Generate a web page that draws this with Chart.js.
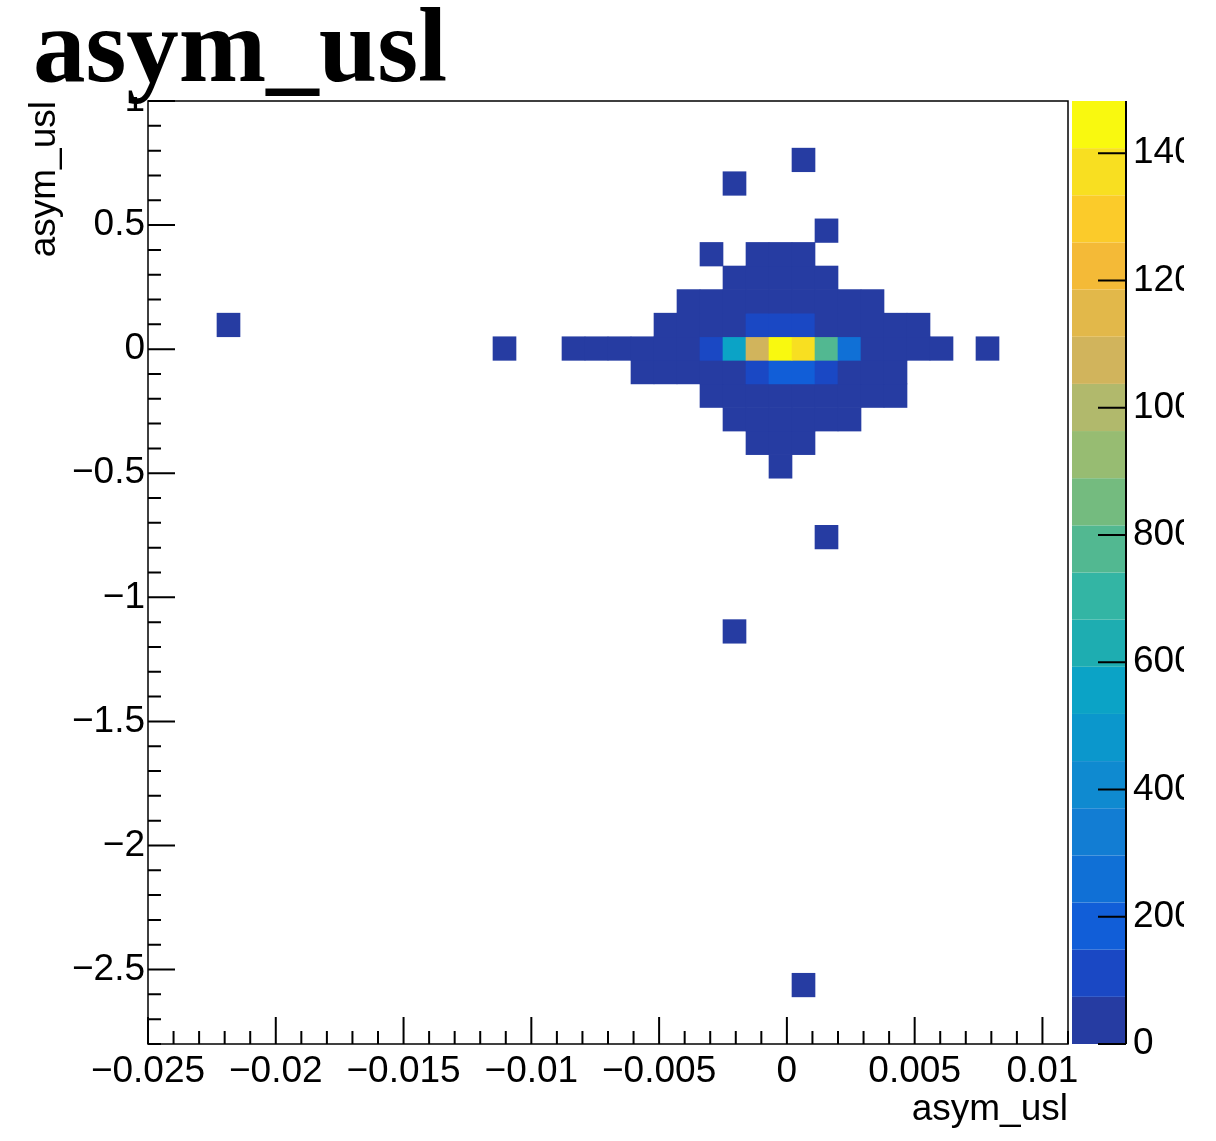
<!DOCTYPE html>
<html>
<head>
<meta charset="utf-8">
<title>asym_usl</title>
<script src="https://cdn.jsdelivr.net/npm/chart.js@4.4.1/dist/chart.umd.min.js"></script>
<style>
  html, body { margin: 0; padding: 0; background: #fff; }
  /* ROOT canvas cuts the palette labels on the right */
  #wrap { width: 1184px; height: 1141px; overflow: hidden; }
</style>
</head>
<body>
<div id="wrap"><canvas id="h2" width="1216" height="1141"></canvas></div>
<script>
// --- binning of the TH2 (40 x 40) ---
const xMin = -0.025, xMax = 0.011, nBinsX = 40;
const yMin = -2.8, yMax = 1.0, nBinsY = 40;

// --- filled bins: column, row (from bottom), entries ---
const binCol = [
  28,
  25,
  29,
  24, 26, 27, 28,
  25, 26, 27, 28, 29,
  23, 24, 25, 26, 27, 28, 29, 30, 31,
  3, 22, 23, 24, 25, 26, 27, 28, 29, 30, 31, 32, 33,
  15, 18, 19, 20, 21, 22, 23, 24, 25, 26, 27, 28, 29, 30, 31, 32, 33, 34, 36,
  21, 22, 23, 24, 25, 26, 27, 28, 29, 30, 31, 32,
  24, 25, 26, 27, 28, 29, 30, 31, 32,
  25, 26, 27, 28, 29, 30,
  26, 27, 28,
  27,
  29,
  25,
  28
];
const binRow = [
  37,
  36,
  34,
  33, 33, 33, 33,
  32, 32, 32, 32, 32,
  31, 31, 31, 31, 31, 31, 31, 31, 31,
  30, 30, 30, 30, 30, 30, 30, 30, 30, 30, 30, 30, 30,
  29, 29, 29, 29, 29, 29, 29, 29, 29, 29, 29, 29, 29, 29, 29, 29, 29, 29, 29,
  28, 28, 28, 28, 28, 28, 28, 28, 28, 28, 28, 28,
  27, 27, 27, 27, 27, 27, 27, 27, 27,
  26, 26, 26, 26, 26, 26,
  25, 25, 25,
  24,
  21,
  17,
  2
];
const binCount = [
  1,
  1,
  1,
  1, 2, 3, 2,
  3, 6, 9, 7, 3,
  2, 4, 9, 16, 24, 20, 10, 5, 2,
  1, 2, 4, 11, 30, 105, 130, 115, 45, 16, 6, 3, 1,
  1, 1, 1, 2, 3, 7, 22, 125, 530, 1080, 1482, 1380, 780, 250, 55, 14, 4, 1, 1,
  1, 2, 5, 13, 40, 110, 185, 175, 100, 32, 8, 2,
  2, 6, 18, 32, 27, 13, 5, 2, 1,
  2, 5, 9, 7, 3, 1,
  2, 3, 1,
  1,
  1,
  1,
  1
];

// --- axis labels ---
const xMajor = [-0.025, -0.02, -0.015, -0.01, -0.005, 0, 0.005, 0.01];
const xMajorLabels = ['\u22120.025', '\u22120.02', '\u22120.015', '\u22120.01', '\u22120.005', '0', '0.005', '0.01'];
const yMajor = [-2.5, -2, -1.5, -1, -0.5, 0, 0.5, 1];
const yMajorLabels = ['\u22122.5', '\u22122', '\u22121.5', '\u22121', '\u22120.5', '0', '0.5', '1'];
const zMajor = [0, 200, 400, 600, 800, 1000, 1200, 1400];
const zMajorLabels = ['0', '200', '400', '600', '800', '1000', '1200', '1400'];
const histTitle = 'asym_usl';
const xTitle = 'asym_usl';
const yTitle = 'asym_usl';

// kBird-like palette, 20 contours (bottom -> top)
const birdPalette = [
  '#263ca2', '#1a48c4', '#115ed8', '#1070d6', '#127dd3',
  '#0f8ad0', '#0b97cc', '#0ba3c6', '#1eadb1', '#33b5a4',
  '#52b891', '#74bb7f', '#97bc72', '#b1b96c', '#d1b45c',
  '#e2b84a', '#f4ba37', '#fbcb2a', '#f8df21', '#f9f90f'
];
const nContours = birdPalette.length;
const zMaxValue = Math.max(...binCount);

function colorFor(v) {
  const k = Math.min(nContours - 1, Math.floor(v / zMaxValue * nContours));
  return birdPalette[k];
}
function labelFrom(values, labels, v) {
  const i = values.findIndex(m => Math.abs(m - v) < 1e-9);
  return i < 0 ? '' : labels[i];
}

// one floating-bar dataset per histogram row
const dx = (xMax - xMin) / nBinsX;
const dy = (yMax - yMin) / nBinsY;
const rows = [...new Set(binRow)];
const datasets = rows.map(r => {
  const data = new Array(nBinsX).fill(null);
  const colors = new Array(nBinsX).fill('rgba(0,0,0,0)');
  binRow.forEach((row, n) => {
    if (row !== r) return;
    data[binCol[n]] = [yMin + r * dy, yMin + (r + 1) * dy];
    colors[binCol[n]] = colorFor(binCount[n]);
  });
  return {
    data: data,
    backgroundColor: colors,
    borderWidth: 0,
    barPercentage: 1,
    categoryPercentage: 1,
    grouped: false,
    xAxisID: 'xb',
    yAxisID: 'y'
  };
});

// ROOT look: frame, inner ticks, palette, title pave
const rootStyle = {
  id: 'rootStyle',
  beforeDraw(chart) {
    const ctx = chart.ctx;
    ctx.save();
    ctx.fillStyle = '#fff';
    ctx.fillRect(0, 0, chart.width, chart.height);
    ctx.restore();
  },
  afterDatasetsDraw(chart) {
    const {ctx, chartArea: a} = chart;
    const {x, y} = chart.scales;
    ctx.save();
    ctx.strokeStyle = '#000';
    ctx.lineWidth = 1.5;
    ctx.strokeRect(a.left, a.top, a.right - a.left, a.bottom - a.top);
    ctx.lineWidth = 2;
    ctx.beginPath();
    x.ticks.forEach(t => {
      const px = x.getPixelForValue(t.value);
      const len = labelFrom(xMajor, xMajorLabels, t.value) ? 27 : 13;
      ctx.moveTo(px, a.bottom);
      ctx.lineTo(px, a.bottom - len);
    });
    y.ticks.forEach(t => {
      const py = y.getPixelForValue(t.value);
      const len = labelFrom(yMajor, yMajorLabels, t.value) ? 27 : 13;
      ctx.moveTo(a.left, py);
      ctx.lineTo(a.left + len, py);
    });
    ctx.stroke();
    ctx.restore();
  },
  afterDraw(chart) {
    const {ctx, chartArea: a} = chart;
    const z = chart.scales.z;
    const pLeft = a.right + 4, pWidth = 54;
    ctx.save();
    // colour palette
    for (let k = 0; k < nContours; k++) {
      const y0 = z.getPixelForValue(k * zMaxValue / nContours);
      const y1 = z.getPixelForValue((k + 1) * zMaxValue / nContours);
      ctx.fillStyle = birdPalette[k];
      ctx.fillRect(pLeft, y1, pWidth, y0 - y1);
    }
    ctx.strokeStyle = '#000';
    ctx.lineWidth = 2;
    ctx.beginPath();
    ctx.moveTo(pLeft + pWidth, z.top);
    ctx.lineTo(pLeft + pWidth, z.bottom);
    z.ticks.forEach(t => {
      const py = z.getPixelForValue(t.value);
      ctx.moveTo(pLeft + pWidth, py);
      ctx.lineTo(pLeft + pWidth - 28, py);
    });
    ctx.stroke();
    // title pave
    ctx.fillStyle = '#fff';
    ctx.fillRect(0, 0, 470, 97);
    ctx.fillStyle = '#000';
    ctx.font = 'bold 105px "Liberation Serif", "Times New Roman", serif';
    ctx.textBaseline = 'alphabetic';
    ctx.textAlign = 'left';
    ctx.fillText(histTitle, 33, 81);
    ctx.restore();
  }
};

Chart.defaults.font.family = '"Liberation Sans", Arial, Helvetica, sans-serif';
Chart.defaults.font.size = 37;
Chart.defaults.color = '#000';

new Chart(document.getElementById('h2'), {
  type: 'bar',
  data: {
    labels: Array.from({length: nBinsX}, (_, i) => i),
    datasets: datasets
  },
  options: {
    responsive: false,
    animation: false,
    devicePixelRatio: 1,
    layout: { padding: { top: 101, left: 0, right: 0, bottom: 0 } },
    plugins: {
      legend: { display: false },
      tooltip: { enabled: false },
      title: { display: false }
    },
    scales: {
      xb: {
        type: 'category',
        axis: 'x',
        display: false,
        offset: true
      },
      x: {
        type: 'linear',
        axis: 'x',
        position: 'bottom',
        min: xMin,
        max: xMax,
        offset: false,
        grid: { display: false, drawTicks: false, offset: false },
        border: { display: false },
        ticks: {
          stepSize: 0.001,
          autoSkip: false,
          maxRotation: 0,
          padding: 6,
          callback: v => labelFrom(xMajor, xMajorLabels, v)
        },
        title: { display: true, text: xTitle, align: 'end', padding: { top: 0, bottom: 9 } },
        afterFit: s => { s.height = 97; }
      },
      y: {
        type: 'linear',
        axis: 'y',
        position: 'left',
        min: yMin,
        max: yMax,
        offset: false,
        grid: { display: false, drawTicks: false },
        border: { display: false },
        ticks: {
          stepSize: 0.1,
          autoSkip: false,
          padding: 3,
          callback: v => labelFrom(yMajor, yMajorLabels, v)
        },
        title: { display: true, text: yTitle, align: 'end', padding: { top: 23, bottom: 0 } },
        afterFit: s => { s.width = 148; }
      },
      z: {
        type: 'linear',
        axis: 'y',
        position: 'right',
        min: 0,
        max: zMaxValue,
        offset: false,
        grid: { display: false, drawTicks: false },
        border: { display: false },
        ticks: {
          stepSize: 200,
          includeBounds: false,
          autoSkip: false,
          padding: 65,
          callback: v => labelFrom(zMajor, zMajorLabels, v)
        },
        afterFit: s => { s.width = 148; }
      }
    }
  },
  plugins: [rootStyle]
});
</script>
</body>
</html>
